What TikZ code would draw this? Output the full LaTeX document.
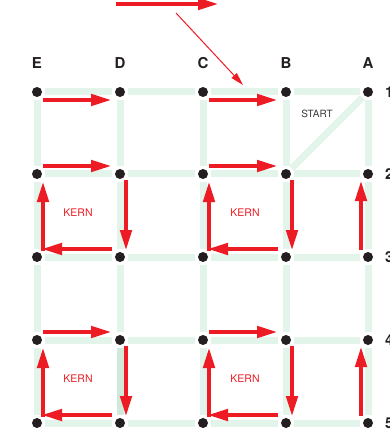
\documentclass[tikz,border=0pt]{standalone}
\usepackage{fontspec}
\setmainfont{TeX Gyre Heros}
\usetikzlibrary{arrows.meta}
\definecolor{gridgreen}{HTML}{E3F4EA}
\definecolor{gridgreendark}{HTML}{CFEADB}
\definecolor{arrowred}{HTML}{ED1C24}
\definecolor{dotblack}{HTML}{231F20}
\definecolor{labelgray}{HTML}{3A3A3A}
\begin{document}
\begin{tikzpicture}[x=1pt,y=-1pt,
  dot/.style={circle,fill=dotblack,minimum size=10pt,inner sep=0pt,outer sep=3pt},
  gridline/.style={draw=gridgreen,line width=7pt},
  gridlinedark/.style={draw=gridgreendark,line width=7pt},
  redarrow/.style={draw=arrowred,line width=4.5pt,-{Triangle[length=21pt,width=11pt]}},
  thinarrow/.style={draw=arrowred,line width=1pt,-{Triangle[length=13pt,width=7pt]}},
  collabel/.style={font=\fontsize{15}{15}\selectfont\bfseries,text=dotblack,inner sep=0pt},
  rowlabel/.style={font=\fontsize{15}{15}\selectfont\bfseries,text=dotblack,inner sep=0pt,anchor=west},
  kern/.style={font=\fontsize{10.5}{10.5}\selectfont,text=arrowred,inner sep=0pt},
  startlbl/.style={font=\fontsize{10}{10}\selectfont,text=labelgray,inner sep=0pt}
]
\useasboundingbox (0,0) rectangle (389,430);
% dots
\foreach \c/\x in {E/37,D/120,C/203,B/286,A/368}{
  \foreach \r/\y in {1/92,2/174,3/257,4/340,5/423}{
    \node[dot] (\c\r) at (\x,\y) {};
  }
}
% grid lines horizontal
\foreach \r in {1,2,3,4,5}{
  \draw[gridline] (E\r) -- (D\r);
  \draw[gridline] (D\r) -- (C\r);
  \draw[gridline] (C\r) -- (B\r);
  \draw[gridline] (B\r) -- (A\r);
}
% grid lines vertical
\foreach \c in {E,D,C,B,A}{
  \draw[gridline] (\c1) -- (\c2);
  \draw[gridline] (\c2) -- (\c3);
  \draw[gridline] (\c3) -- (\c4);
}
\foreach \c in {E,C,B,A}{
  \draw[gridline] (\c4) -- (\c5);
}
\draw[gridlinedark] (D4) -- (D5);
\draw[gridline] (A1) -- (B2);
% labels
\node[collabel] (lE) at (37,63) {E};
\node[collabel] (lD) at (120,63) {D};
\node[collabel] (lC) at (203,63) {C};
\node[collabel] (lB) at (286,63) {B};
\node[collabel] (lA) at (368,63) {A};
\node[rowlabel] (r1) at (385,92) {1};
\node[rowlabel] (r2) at (385,174) {2};
\node[rowlabel] (r3) at (385,257) {3};
\node[rowlabel] (r4) at (385,340) {4};
\node[rowlabel] (r5) at (385,423) {5};
\node[startlbl] (start) at (317,114) {START};
\node[kern] (k1) at (78,213) {KERN};
\node[kern] (k2) at (245,213) {KERN};
\node[kern] (k3) at (78,379) {KERN};
\node[kern] (k4) at (245,379) {KERN};
% top arrows
\coordinate (topL) at (116,4);
\coordinate (topR) at (219,4);
\draw[redarrow] (topL) -- (topR);
\coordinate (thinS) at (176,13);
\coordinate (thinE) at (243,85);
\draw[thinarrow] (thinS) -- (thinE);
% row 1 arrows
\draw[redarrow] ([shift={(6,8)}]E1.center) -- ([shift={(-8,8)}]D1.center);
\draw[redarrow] ([shift={(6,8)}]C1.center) -- ([shift={(-8,8)}]B1.center);
% kern loops
\foreach \l/\r/\t/\b in {E/D/2/3,C/B/2/3,E/D/4/5,C/B/4/5}{
  \draw[redarrow] ([shift={(6,-8)}]\l\t.center) -- ([shift={(-8,-8)}]\r\t.center);
  \draw[redarrow] ([shift={(6,6)}]\r\t.center) -- ([shift={(6,-6)}]\r\b.center);
  \draw[redarrow] ([shift={(-8,-8)}]\r\b.center) -- ([shift={(4,-8)}]\l\b.center);
  \draw[redarrow] ([shift={(6,-6)}]\l\b.center) -- ([shift={(6,7)}]\l\t.center);
}
% column A arrows
\draw[redarrow] ([shift={(-7,-7)}]A3.center) -- ([shift={(-7,6)}]A2.center);
\draw[redarrow] ([shift={(-7,-7)}]A5.center) -- ([shift={(-7,6)}]A4.center);
\end{tikzpicture}
\end{document}
